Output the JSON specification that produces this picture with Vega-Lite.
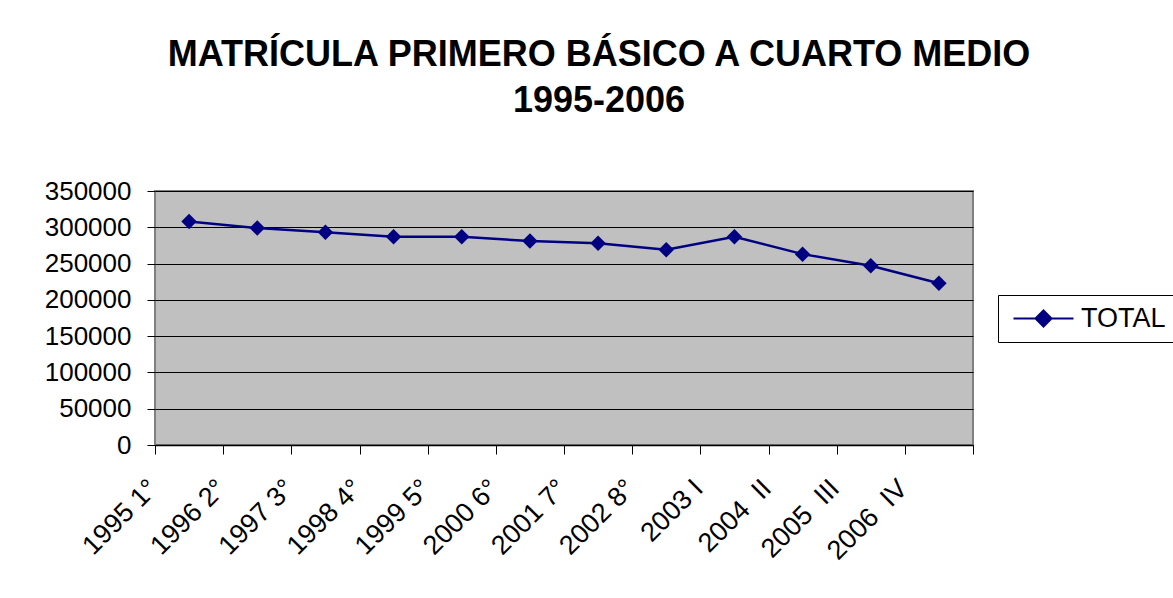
{
  "$schema": "https://vega.github.io/schema/vega-lite/v6.json",
  "autosize": {"type": "none"},
  "width": 818,
  "height": 254,
  "padding": {"left": 155, "top": 191, "right": 200, "bottom": 153},
  "background": "white",
  "title": {
    "text": ["MATRÍCULA PRIMERO BÁSICO A CUARTO MEDIO", "1995-2006"],
    "font": "Liberation Sans",
    "fontSize": 36,
    "fontWeight": "bold",
    "color": "black",
    "anchor": "middle",
    "frame": "group",
    "dx": 35,
    "offset": 58,
    "lineHeight": 46
  },
  "config": {
    "view": {"fill": "#C0C0C0", "stroke": "#808080", "strokeWidth": 2},
    "axis": {"labelFont": "Liberation Sans", "labelColor": "black"}
  },
  "data": {
    "values": [
      {"cat": "1995 1°", "serie": "TOTAL", "valor": 308000},
      {"cat": "1996 2°", "serie": "TOTAL", "valor": 299000},
      {"cat": "1997 3°", "serie": "TOTAL", "valor": 293000},
      {"cat": "1998 4°", "serie": "TOTAL", "valor": 287000},
      {"cat": "1999 5°", "serie": "TOTAL", "valor": 287000},
      {"cat": "2000 6°", "serie": "TOTAL", "valor": 281000},
      {"cat": "2001 7°", "serie": "TOTAL", "valor": 278000},
      {"cat": "2002 8°", "serie": "TOTAL", "valor": 269000},
      {"cat": "2003 I", "serie": "TOTAL", "valor": 287000},
      {"cat": "2004\u00a0\u00a0II", "serie": "TOTAL", "valor": 263000},
      {"cat": "2005\u00a0\u00a0III", "serie": "TOTAL", "valor": 247000},
      {"cat": "2006\u00a0\u00a0IV", "serie": "TOTAL", "valor": 223000}
    ]
  },
  "encoding": {
    "x": {
      "field": "cat",
      "type": "ordinal",
      "sort": null,
      "scale": {"type": "band", "paddingInner": 0, "paddingOuter": 0},
      "axis": {
        "title": null,
        "tickBand": "extent",
        "grid": false,
        "domainColor": "black",
        "domainWidth": 1.5,
        "tickColor": "black",
        "tickSize": 9,
        "labelAngle": -45,
        "labelAlign": "right",
        "labelBaseline": "middle",
        "labelOffset": -36,
        "labelPadding": 30,
        "labelFontSize": 27,
        "labelOverlap": false,
        "labelFlush": false,
        "labelLimit": 300
      }
    },
    "y": {
      "field": "valor",
      "type": "quantitative",
      "scale": {"domain": [0, 350000], "nice": false},
      "axis": {
        "title": null,
        "values": [0, 50000, 100000, 150000, 200000, 250000, 300000, 350000],
        "format": "d",
        "domain": false,
        "grid": true,
        "gridColor": "black",
        "gridOpacity": 1,
        "gridWidth": 1,
        "tickColor": "black",
        "tickSize": 8,
        "labelPadding": 16,
        "labelFontSize": 26
      }
    },
    "color": {
      "field": "serie",
      "type": "nominal",
      "scale": {"range": ["#000080"]},
      "legend": {
        "title": null,
        "orient": "none",
        "legendX": 843,
        "legendY": 104,
        "strokeColor": "black",
        "fillColor": "white",
        "padding": 10,
        "symbolType": "M-3,0L3,0M-0.8,0L0,-0.8L0.8,0L0,0.8Z",
        "symbolSize": 400,
        "symbolStrokeWidth": 2,
        "symbolFillColor": "#000080",
        "symbolStrokeColor": "#000080",
        "symbolOffset": 22,
        "labelOffset": 24,
        "labelFont": "Liberation Sans",
        "labelFontSize": 27,
        "labelColor": "black",
        "labelLimit": 300
      }
    }
  },
  "layer": [
    {"mark": {"type": "line", "strokeWidth": 2.5}},
    {"mark": {"type": "point", "shape": "diamond", "filled": true, "size": 240, "opacity": 1}}
  ]
}
